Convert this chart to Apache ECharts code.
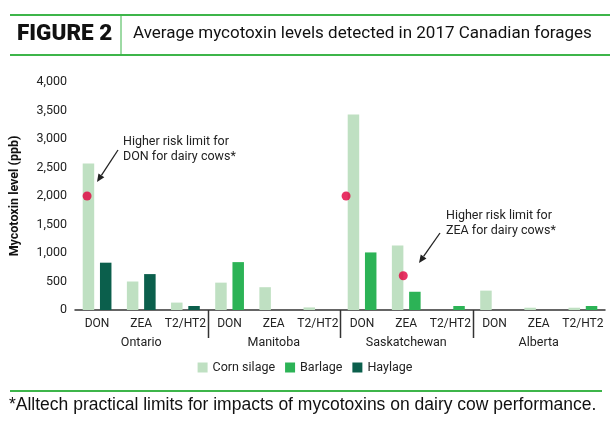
<!DOCTYPE html>
<html>
<head>
<meta charset="utf-8">
<script src="https://cdn.jsdelivr.net/npm/echarts@6/dist/echarts.min.js"></script>
<style>
  html, body { margin: 0; padding: 0; background: #fff; }
  #main { width: 610px; height: 423px; }
</style>
</head>
<body>
<div id="main"></div>
<script>
const toxins = ['DON', 'ZEA', 'T2/HT2', 'DON', 'ZEA', 'T2/HT2', 'DON', 'ZEA', 'T2/HT2', 'DON', 'ZEA', 'T2/HT2']
const provinces = ['Ontario', 'Manitoba', 'Saskatchewan', 'Alberta']
const cornSilage = [2570, 500, 130, 480, 400, 45, 3430, 1130, null, 340, 40, 40]
const barlage = [null, null, null, 840, null, null, 1010, 320, 70, null, null, 70]
const haylage = [830, 630, 70, null, null, null, null, null, null, null, null, null]
const riskLimit = [2000, null, null, null, null, null, 2000, 600, null, null, null, null]
const yTicks = [0, 500, 1000, 1500, 2000, 2500, 3000, 3500, 4000]

const font = 'Roboto, "Liberation Sans", Arial, sans-serif'
const green = '#3db54a'

// small horizontal nudge of each red dot, as placed in the original
const dotShift = { 0: -10, 6: -16, 7: -3 }

let chart = echarts.init(document.getElementById('main'))

let dots = []
riskLimit.forEach((v, i) => {
  if (v != null) dots.push({ value: [i, v], symbolOffset: [dotShift[i] || 0, 0] })
})

function arrow(x1, y1, x2, y2) {
  let a = Math.atan2(y2 - y1, x2 - x1)
  let L = 8, w = 3.5
  let bx = x2 - L * Math.cos(a), by = y2 - L * Math.sin(a)
  return [
    { type: 'line', shape: { x1: x1, y1: y1, x2: bx, y2: by }, style: { stroke: '#222', lineWidth: 1.3 } },
    { type: 'polygon', shape: { points: [[x2, y2], [bx + w * Math.sin(a), by - w * Math.cos(a)], [bx - w * Math.sin(a), by + w * Math.cos(a)]] }, style: { fill: '#222' } }
  ]
}

let option = {
  animation: false,
  backgroundColor: '#fff',
  textStyle: { fontFamily: font },
  grid: { left: 70, right: 5, top: 82, bottom: 113 },
  legend: {
    data: ['Corn silage', 'Barlage', 'Haylage'],
    top: 356, left: 'center',
    icon: 'rect', itemWidth: 10, itemHeight: 10, itemGap: 10,
    textStyle: { fontFamily: font, fontSize: 12.5, color: '#222' }
  },
  xAxis: [{
    type: 'category',
    data: toxins,
    axisLine: { lineStyle: { color: '#333', width: 1.5 } },
    axisTick: { show: false },
    axisLabel: { color: '#222', fontSize: 12, margin: 8, interval: 0, fontFamily: font }
  }, {
    type: 'category',
    data: provinces,
    position: 'bottom',
    axisLine: { show: false },
    axisTick: { show: false },
    axisLabel: { color: '#222', fontSize: 12.5, margin: 26, interval: 0, fontFamily: font },
    splitLine: { show: false }
  }],
  yAxis: {
    type: 'value',
    min: yTicks[0], max: yTicks[yTicks.length - 1], interval: 500,
    name: 'Mycotoxin level (ppb)',
    nameLocation: 'middle', nameGap: 54,
    nameTextStyle: { fontFamily: font, fontSize: 12.5, fontWeight: 'bold', color: '#111' },
    axisLine: { show: false },
    axisTick: { show: false },
    splitLine: { show: false },
    axisLabel: {
      color: '#222', fontSize: 12.5, margin: 8, fontFamily: font,
      formatter: (v) => v.toLocaleString('en-US')
    }
  },
  series: [{
    name: 'Corn silage', type: 'bar', data: cornSilage,
    barWidth: 11.5, barGap: '50%',
    itemStyle: { color: '#bfe0c2' }
  }, {
    name: 'Barlage', type: 'bar', data: barlage, stack: 'other',
    barWidth: 11.5,
    itemStyle: { color: '#2cb356' }
  }, {
    name: 'Haylage', type: 'bar', data: haylage, stack: 'other',
    barWidth: 11.5,
    itemStyle: { color: '#0b5f4c' }
  }, {
    name: 'limit', type: 'scatter', data: dots,
    symbol: 'circle', symbolSize: 9,
    itemStyle: { color: '#e2003e' },
    z: 5
  }],
  graphic: [
    // header
    { type: 'line', shape: { x1: 10, y1: 15, x2: 610, y2: 15 }, style: { stroke: green, lineWidth: 2 } },
    { type: 'line', shape: { x1: 10, y1: 55, x2: 610, y2: 55 }, style: { stroke: green, lineWidth: 2 } },
    { type: 'line', shape: { x1: 121, y1: 15, x2: 121, y2: 55 }, style: { stroke: green, lineWidth: 1 } },
    { type: 'text', left: 17, top: 23, style: { text: 'FIGURE 2', font: '900 22.5px Roboto, "Liberation Sans", sans-serif', fill: '#111' } },
    { type: 'text', left: 133, top: 25, style: { text: 'Average mycotoxin levels detected in 2017 Canadian forages', font: '17px Roboto, "Liberation Sans", sans-serif', fill: '#111' } },
    // annotations
    { type: 'text', left: 123, top: 134, style: { text: 'Higher risk limit for\nDON for dairy cows*', font: '12.5px ' + font, fill: '#222', lineHeight: 15 } },
    { type: 'text', left: 446, top: 208, style: { text: 'Higher risk limit for\nZEA for dairy cows*', font: '12.5px ' + font, fill: '#222', lineHeight: 15 } },
    ...arrow(118, 150, 97, 182),
    ...arrow(440, 233, 419, 263),
    // footnote
    { type: 'line', shape: { x1: 10, y1: 391, x2: 602, y2: 391 }, style: { stroke: green, lineWidth: 2 } },
    { type: 'text', left: 9, top: 396, style: { text: '*Alltech practical limits for impacts of mycotoxins on dairy cow performance.', font: '17.5px "Liberation Sans", Arial, sans-serif', fill: '#111' } }
  ]
}

chart.setOption(option)

// group dividers between provinces, placed from the category scale
let dividers = []
for (let g = 1; g < provinces.length; g++) {
  let a = chart.convertToPixel({ xAxisIndex: 0 }, g * 3 - 1)
  let b = chart.convertToPixel({ xAxisIndex: 0 }, g * 3)
  let y0 = chart.convertToPixel({ yAxisIndex: 0 }, 0)
  let x = Math.round((a + b) / 2) + 0.5
  dividers.push({ type: 'line', shape: { x1: x, y1: y0, x2: x, y2: y0 + 28 }, style: { stroke: '#333', lineWidth: 1.5 } })
}
chart.setOption({ graphic: option.graphic.concat(dividers) })
</script>
</body>
</html>
